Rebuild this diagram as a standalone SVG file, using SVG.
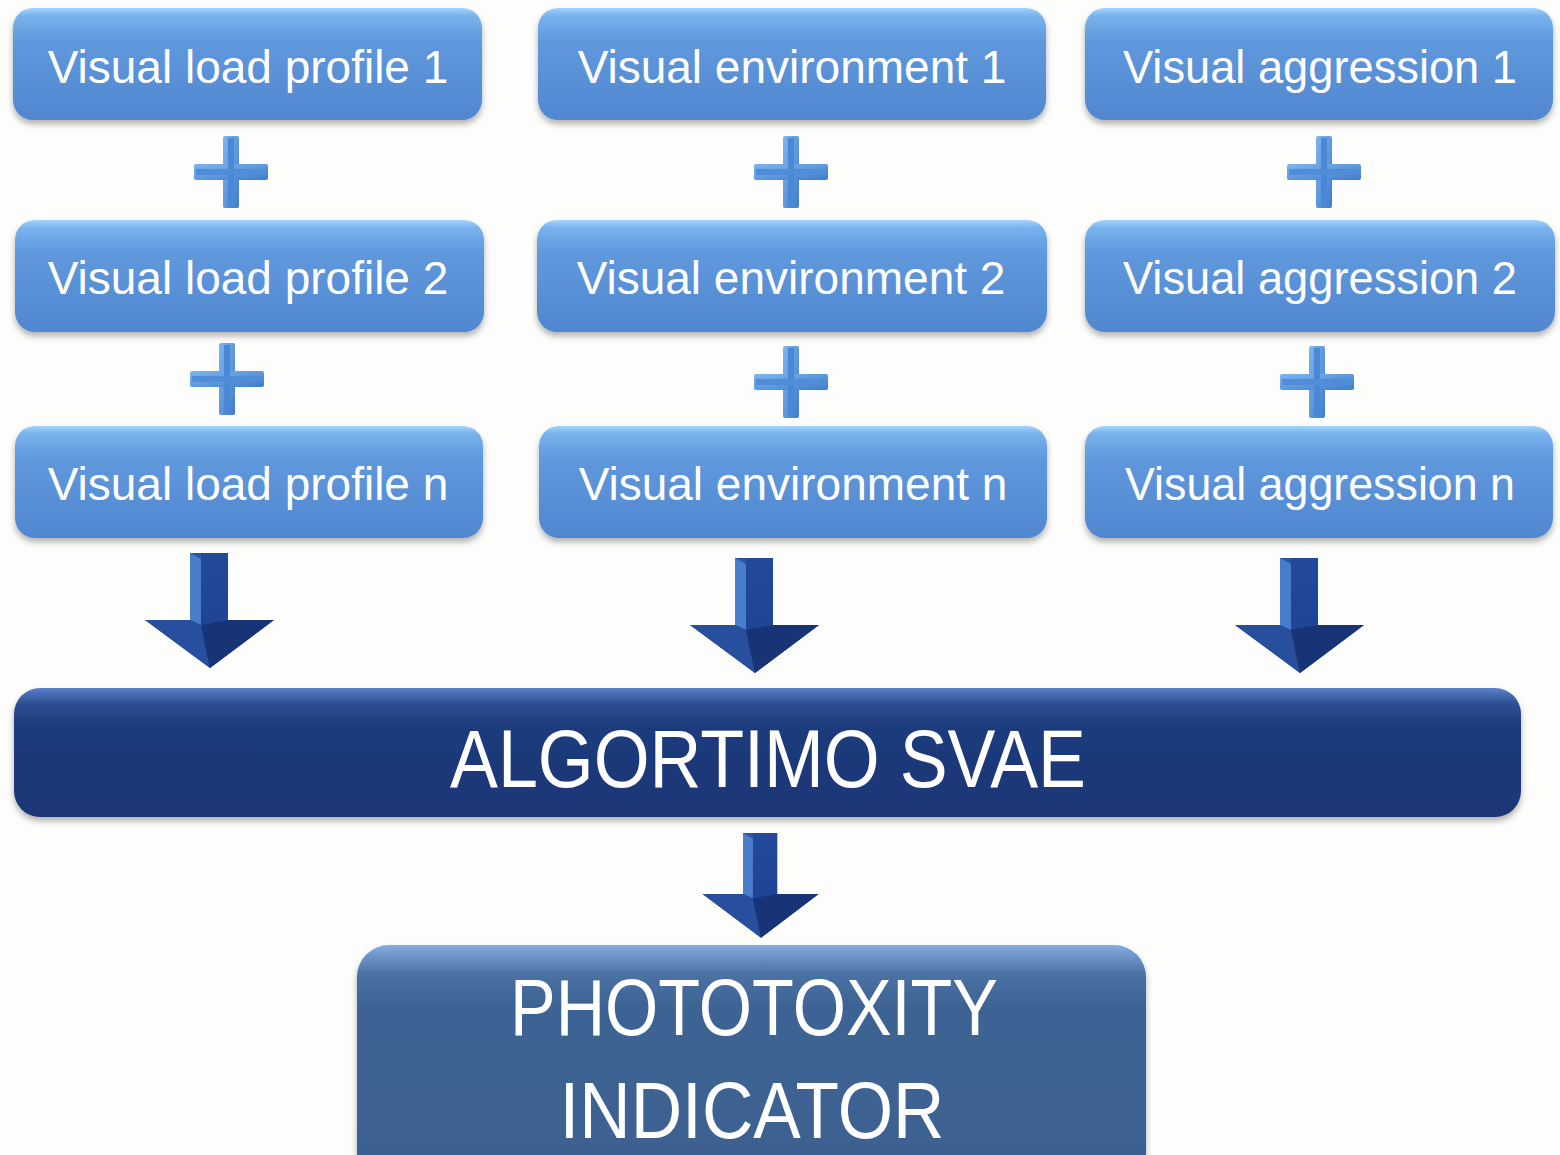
<svg xmlns="http://www.w3.org/2000/svg" width="1560" height="1155" viewBox="0 0 1560 1155">
<style>
.lbl{font-family:"Liberation Sans",Arial,sans-serif;font-size:46px;fill:#ffffff;text-anchor:middle}
.big{font-family:"Liberation Sans",Arial,sans-serif;font-size:82px;fill:#ffffff;text-anchor:middle}
.box{fill:url(#gBox);filter:url(#sh)}
</style>
<defs>
<linearGradient id="gBox" x1="0" y1="0" x2="0" y2="1">
<stop offset="0" stop-color="#a2d3fc"/>
<stop offset="0.07" stop-color="#78b2ee"/>
<stop offset="0.3" stop-color="#6098dc"/>
<stop offset="1" stop-color="#5087d0"/>
</linearGradient>
<linearGradient id="gNavy" x1="0" y1="0" x2="0" y2="1">
<stop offset="0" stop-color="#5a80c8"/>
<stop offset="0.12" stop-color="#2e4f95"/>
<stop offset="0.3" stop-color="#1d3b7b"/>
<stop offset="1" stop-color="#1a3677"/>
</linearGradient>
<linearGradient id="gPhoto" x1="0" y1="0" x2="0" y2="1">
<stop offset="0" stop-color="#86ace0"/>
<stop offset="0.12" stop-color="#4a71a3"/>
<stop offset="0.25" stop-color="#3e6494"/>
<stop offset="1" stop-color="#3c6191"/>
</linearGradient>
<linearGradient id="gArrow" x1="0" y1="0" x2="0" y2="1">
<stop offset="0" stop-color="#2b55a6"/>
<stop offset="1" stop-color="#1c3c86"/>
</linearGradient>
<linearGradient id="gPlus" x1="0" y1="0" x2="1" y2="1">
<stop offset="0" stop-color="#7fb6ef"/>
<stop offset="1" stop-color="#3f7ccb"/>
</linearGradient>
<filter id="sh" x="-5%" y="-10%" width="110%" height="130%">
<feDropShadow dx="0" dy="4" stdDeviation="3" flood-color="#000" flood-opacity="0.3"/>
</filter>
<g id="arrowBig">
<polygon points="-20,0 18,0 18,67 64,67 0,115 -65,67 -20,67" fill="url(#gArrow)"/>
<polygon points="-9,0 18,0 18,67 -9,72" fill="#1f4596" opacity="0.7"/>
<polygon points="-20,0 -9,6 -9,72 -20,67" fill="#4a7ccc"/>
<polygon points="-65,67 -20,67 -9,72 0,115" fill="#284f9e"/>
<polygon points="18,67 64,67 0,115 -9,72" fill="#173477"/>
</g>
<g id="plus">
<rect x="-8" y="-36" width="16" height="72" rx="2" fill="url(#gPlus)"/>
<rect x="-37" y="-8" width="74" height="16" rx="2" fill="url(#gPlus)"/>
<rect x="-3" y="-34" width="6" height="68" fill="#4a88d6"/>
<rect x="-35" y="-3" width="70" height="6" fill="#4f8dd9"/>
</g>
</defs>
<rect width="1560" height="1155" fill="#fdfdfb"/>

<g id="connectors">
<use href="#plus" x="231" y="172"/>
<use href="#plus" x="227" y="379"/>
<use href="#plus" x="791" y="172"/>
<use href="#plus" x="791" y="382"/>
<use href="#plus" x="1324" y="172"/>
<use href="#plus" x="1317" y="382"/>
<use href="#arrowBig" x="210" y="553"/>
<use href="#arrowBig" x="755" y="558"/>
<use href="#arrowBig" x="1300" y="558"/>
<g transform="translate(761,833) scale(0.9,0.91)">
<use href="#arrowBig"/>
</g>
</g>

<g id="n-load1"><rect class="box" x="13" y="8" width="469" height="112" rx="20"/><text class="lbl" x="248" y="83">Visual load profile 1</text></g>
<g id="n-env1"><rect class="box" x="538" y="8" width="508" height="112" rx="20"/><text class="lbl" x="792" y="83">Visual environment 1</text></g>
<g id="n-agg1"><rect class="box" x="1085" y="8" width="468" height="112" rx="20"/><text class="lbl" x="1320" y="83" textLength="394" lengthAdjust="spacingAndGlyphs">Visual aggression 1</text></g>

<g id="n-load2"><rect class="box" x="15" y="220" width="469" height="112" rx="20"/><text class="lbl" x="248" y="294">Visual load profile 2</text></g>
<g id="n-env2"><rect class="box" x="537" y="220" width="510" height="112" rx="20"/><text class="lbl" x="791" y="294">Visual environment 2</text></g>
<g id="n-agg2"><rect class="box" x="1085" y="220" width="470" height="112" rx="20"/><text class="lbl" x="1320" y="294" textLength="394" lengthAdjust="spacingAndGlyphs">Visual aggression 2</text></g>

<g id="n-loadn"><rect class="box" x="15" y="426" width="468" height="112" rx="20"/><text class="lbl" x="248" y="500">Visual load profile n</text></g>
<g id="n-envn"><rect class="box" x="539" y="426" width="508" height="112" rx="20"/><text class="lbl" x="793" y="500">Visual environment n</text></g>
<g id="n-aggn"><rect class="box" x="1085" y="426" width="468" height="112" rx="20"/><text class="lbl" x="1320" y="500" textLength="390" lengthAdjust="spacingAndGlyphs">Visual aggression n</text></g>

<g id="n-svae"><rect x="14" y="688" width="1507" height="129" rx="26" fill="url(#gNavy)" filter="url(#sh)"/><text class="big" x="768" y="787" textLength="636" lengthAdjust="spacingAndGlyphs">ALGORTIMO SVAE</text></g>

<g id="n-photo"><rect x="357" y="945" width="789" height="240" rx="32" fill="url(#gPhoto)" filter="url(#sh)"/>
<text class="big" x="754" y="1035" textLength="488" lengthAdjust="spacingAndGlyphs" style="font-size:80px">PHOTOTOXITY</text>
<text class="big" x="752" y="1138" textLength="385" lengthAdjust="spacingAndGlyphs" style="font-size:80px">INDICATOR</text></g>
</svg>
